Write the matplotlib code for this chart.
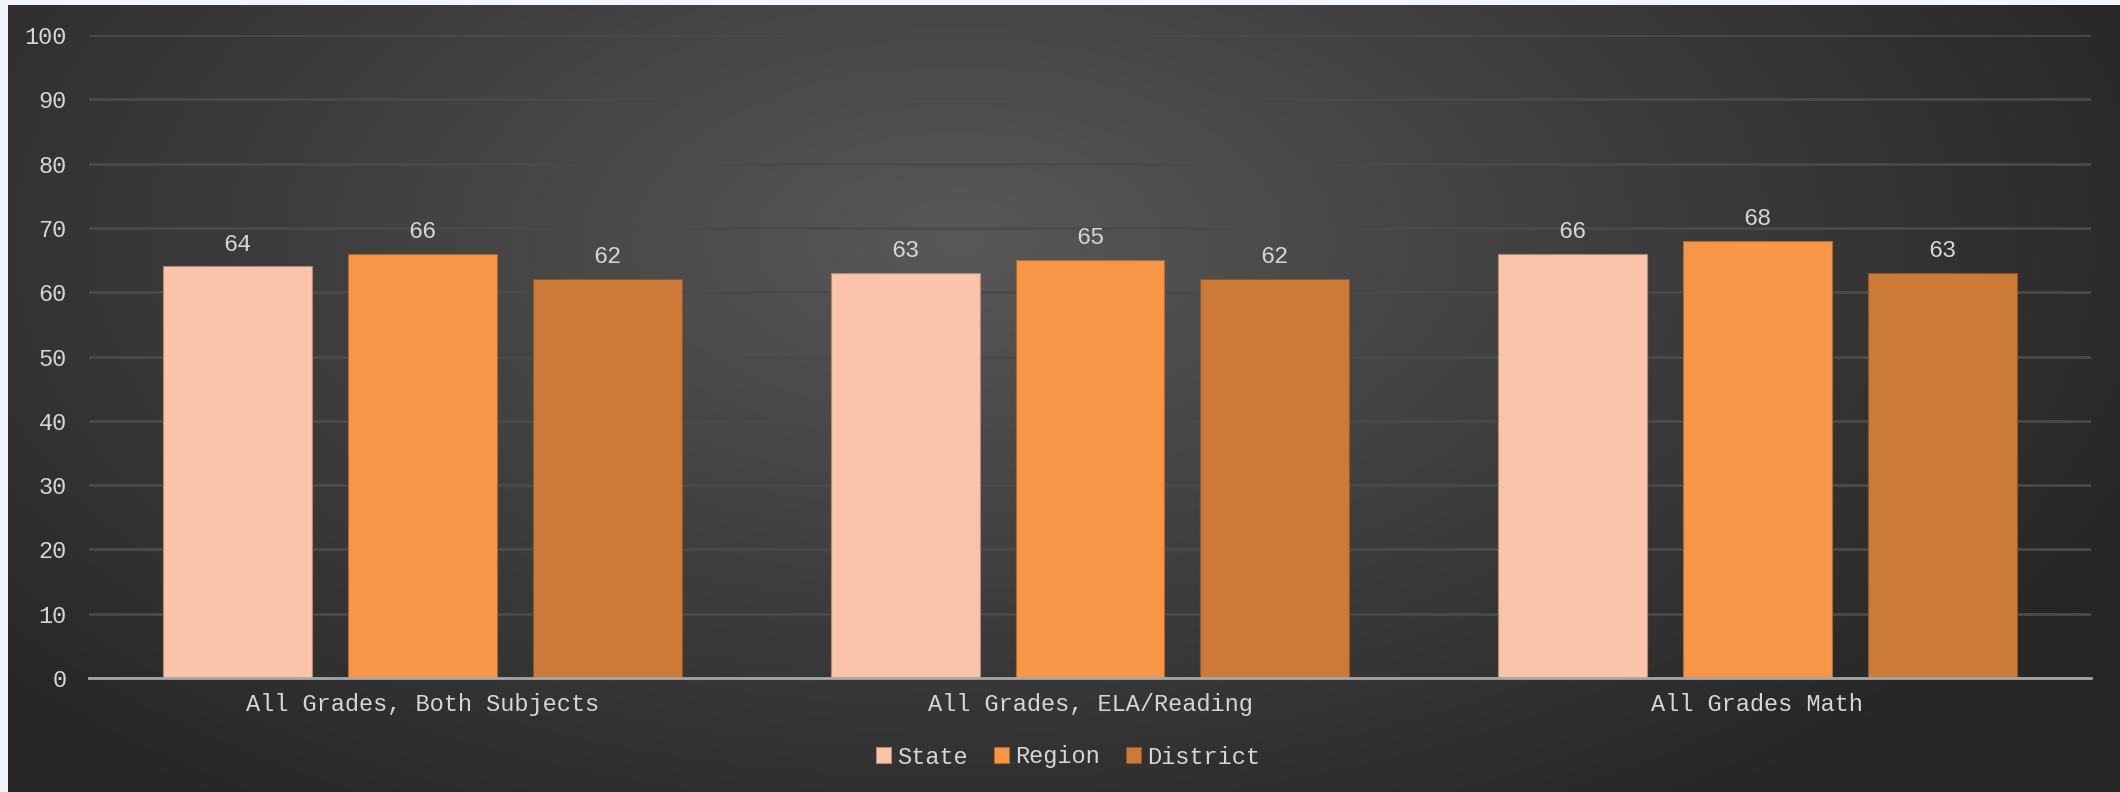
import matplotlib.pyplot as plt
import numpy as np
from matplotlib.colors import LinearSegmentedColormap

categories = ["All Grades, Both Subjects", "All Grades, ELA/Reading", "All Grades Math"]
series_names = ["State", "Region", "District"]
state = [64, 63, 66]
region = [66, 65, 68]
district = [62, 62, 63]
colors = ["#F9C4AA", "#F79646", "#CC7A38"]
edges = ["#B08A78", "#B06A30", "#915628"]

W, H = 2120, 792
fig = plt.figure(figsize=(W / 100, H / 100), dpi=100, facecolor="#F2F5FB")

# dark radial gradient background
bg = fig.add_axes([8 / W, 0, 1 - 8 / W, 1 - 5 / H])
yy, xx = np.mgrid[0:1:400j, 0:1:1000j]
r = np.sqrt(((xx - 0.45) * 1.3) ** 2 + ((yy - 0.3) * 0.9) ** 2)
cmap = LinearSegmentedColormap.from_list("bg", ["#585858", "#3e3e3e", "#262626"])
bg.imshow(r, cmap=cmap, aspect="auto", extent=[0, 1, 1, 0], vmin=0, vmax=0.8)
bg.axis("off")

ax = fig.add_axes([89 / W, 1 - 678 / H, (2091 - 89) / W, (678 - 35) / H])
ax.patch.set_alpha(0)
x = np.arange(len(categories))
w = 0.223
step = 0.277
font = "Liberation Mono"
for i, (name, vals) in enumerate(zip(series_names, [state, region, district])):
    pos = x + (i - 1) * step
    bars = ax.bar(pos, vals, width=w, color=colors[i], edgecolor=edges[i], linewidth=0.8,
                  label=name, zorder=3)
    for b, v in zip(bars, vals):
        ax.text(b.get_x() + b.get_width() / 2, v + 1.7, str(v), ha="center", va="bottom",
                color="#D6D6D6", fontsize=17, family=font)

ax.set_xlim(-0.5, 2.5)
ax.set_ylim(0, 100)
ax.set_yticks(range(0, 101, 10))
ax.yaxis.grid(True, color="#4a4a4a", linewidth=2, zorder=0)
for s in ["top", "right", "left"]:
    ax.spines[s].set_visible(False)
ax.spines["bottom"].set_color("#A6A6A6")
ax.spines["bottom"].set_linewidth(2)
ax.spines["bottom"].set_zorder(4)
ax.tick_params(axis="both", length=0, colors="#D6D6D6", labelsize=17)
ax.tick_params(axis="y", pad=16)
ax.tick_params(axis="x", pad=11)
ax.set_xticks(x)
ax.set_xticklabels(categories, family=font, fontsize=17)
for t in ax.get_yticklabels():
    t.set_family(font)

leg = fig.legend(loc="center", bbox_to_anchor=(1068 / W, 1 - 757 / H), ncol=3, frameon=False,
                 prop={"family": font, "size": 17}, handlelength=0.65, handleheight=0.65,
                 handletextpad=0.25, columnspacing=1.1)
for t in leg.get_texts():
    t.set_color("#D6D6D6")

fig.savefig("out.png", dpi=100, facecolor=fig.get_facecolor())
